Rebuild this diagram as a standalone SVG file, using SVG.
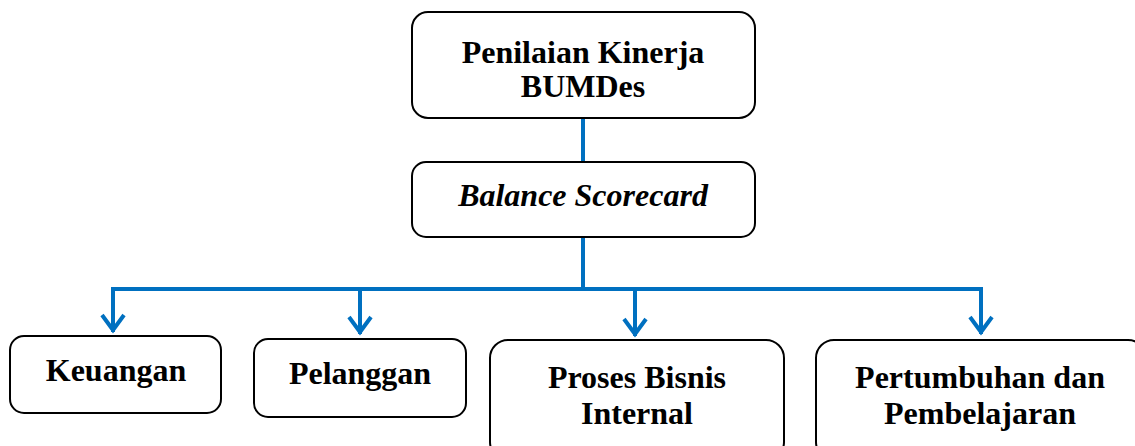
<svg xmlns="http://www.w3.org/2000/svg" width="1135" height="446" viewBox="0 0 1135 446">
<style>
.box{fill:#fff;stroke:#000;stroke-width:2}
.t{font-family:"Liberation Serif","Times New Roman",serif;font-weight:bold;font-size:32px;fill:#000;text-anchor:middle}
.ln{fill:none;stroke:#0070C0;stroke-width:4}
</style>
<defs>
<marker id="ah" markerUnits="userSpaceOnUse" markerWidth="30" markerHeight="30" viewBox="-15 -25 30 30" refX="0" refY="0" orient="0">
<path d="M-11,-17 L0,-2 L11,-17" fill="none" stroke="#0070C0" stroke-width="4"/>
</marker>
</defs>
<g id="connectors">
<line class="ln" x1="583" y1="118" x2="583" y2="162"/>
<line class="ln" x1="583" y1="237" x2="583" y2="289"/>
<polyline class="ln" points="113,332 113,289 981,289 981,332"/>
<line class="ln" x1="113" y1="289" x2="113" y2="332" marker-end="url(#ah)"/>
<line class="ln" x1="360" y1="289" x2="360" y2="334" marker-end="url(#ah)"/>
<line class="ln" x1="635" y1="289" x2="635" y2="336" marker-end="url(#ah)"/>
<line class="ln" x1="981" y1="289" x2="981" y2="334" marker-end="url(#ah)"/>
</g>
<g id="n1"><rect class="box" x="412" y="12" width="343" height="106" rx="16"/>
<text class="t" x="583" y="63">Penilaian Kinerja</text><text class="t" x="583" y="97">BUMDes</text></g>
<g id="n2"><rect class="box" x="412" y="162" width="343" height="75" rx="14"/>
<text class="t" x="583" y="206" font-style="italic">Balance Scorecard</text></g>
<g id="n3"><rect class="box" x="10" y="336" width="211" height="77" rx="14"/>
<text class="t" x="116" y="381">Keuangan</text></g>
<g id="n4"><rect class="box" x="254" y="339" width="212" height="78" rx="14"/>
<text class="t" x="360" y="384">Pelanggan</text></g>
<g id="n5"><rect class="box" x="490" y="340" width="294" height="120" rx="18"/>
<text class="t" x="637" y="388">Proses Bisnis</text><text class="t" x="637" y="424">Internal</text></g>
<g id="n6"><rect class="box" x="816" y="340" width="330" height="120" rx="18"/>
<text class="t" x="980" y="388">Pertumbuhan dan</text><text class="t" x="980" y="424">Pembelajaran</text></g>
</svg>
